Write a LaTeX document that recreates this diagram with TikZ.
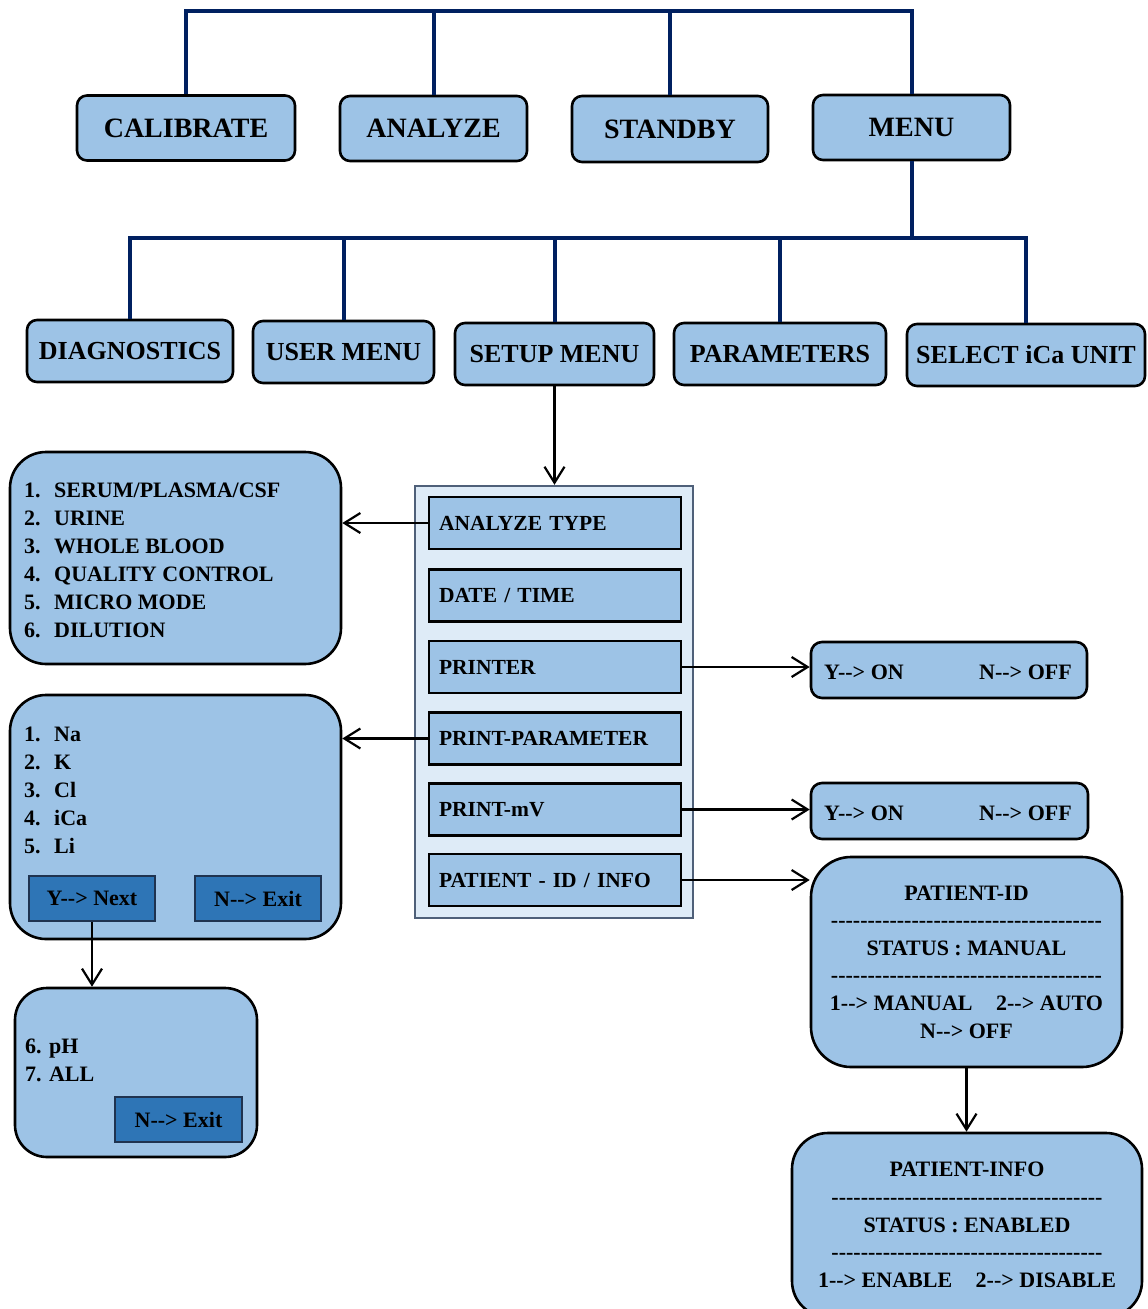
\documentclass[tikz,border=0pt]{standalone}
\usepackage{fontspec}
\setmainfont{Liberation Serif}
\usetikzlibrary{arrows.meta}

\definecolor{boxblue}{HTML}{9DC3E6}
\definecolor{btnblue}{HTML}{2E75B6}
\definecolor{btnedge}{HTML}{1F3350}
\definecolor{panelfill}{HTML}{DEEBF7}
\definecolor{paneledge}{HTML}{4F6079}
\definecolor{navy}{HTML}{002060}

% "-->" without the TeX en-dash ligature
\newcommand\goesto{-{}->}
% row of separating hyphens
\newcommand\dashrow{-{}-{}-{}-{}-{}-{}-{}-{}-{}-{}-{}-{}-{}-{}-{}-{}-{}-{}-{}-{}-{}-{}-{}-{}-{}-{}-{}-{}-{}-{}-{}-{}-{}-{}-{}-{}-}

\begin{document}
\begin{tikzpicture}[x=1pt,y=-1pt,
  bus/.style={draw=navy, line width=4pt},
  conn/.style={draw=black, line width=2.2pt,
    -{Straight Barb[length=16pt,width=20pt,line width=2.2pt]}},
  tab/.style={draw=black, line width=2.6pt, fill=boxblue, rounded corners=10pt,
    inner sep=0pt, font=\bfseries\fontsize{28}{32}\selectfont},
  tabsmall/.style={tab, font=\bfseries\fontsize{26}{30}\selectfont},
  panel/.style={draw=paneledge, line width=2.4pt, fill=panelfill, inner sep=0pt},
  item/.style={draw=black, line width=2.6pt, fill=boxblue, inner xsep=10pt, inner ysep=0pt,
    text width=232pt, align=left, minimum height=52pt,
    font=\bfseries\fontsize{21.5}{25}\selectfont},
  bigbox/.style={draw=black, line width=2.6pt, fill=boxblue, rounded corners=36pt, inner sep=0pt},
  ynbox/.style={draw=black, line width=2.6pt, fill=boxblue, rounded corners=11pt, inner sep=0pt},
  btn/.style={draw=btnedge, line width=1.6pt, fill=btnblue, inner sep=0pt,
    font=\bfseries\fontsize{22}{26}\selectfont},
  txt/.style={anchor=base west, inner sep=0pt, font=\bfseries\fontsize{22}{26}\selectfont},
  block/.style={align=center, font=\bfseries\fontsize{22}{27.6}\selectfont}
]
\useasboundingbox (0,0) rectangle (1148,1309);
\clip (0,0) rectangle (1148,1309);

% ---- main modes
\node[tab, minimum width=218pt, minimum height=65pt] (cal)  at (186,128)   {CALIBRATE};
\node[tab, minimum width=187pt, minimum height=65pt] (ana)  at (433.5,128.5) {ANALYZE};
\node[tab, minimum width=196pt, minimum height=66pt] (stb)  at (670,129)   {STANDBY};
\node[tab, minimum width=197pt, minimum height=65pt] (menu) at (911.5,127.5) {MENU};

\coordinate (busA) at (0,11);
\draw[bus] (cal.north) -- (cal.north |- busA) -- (menu.north |- busA) -- (menu.north);
\draw[bus] (ana.north) -- (ana.north |- busA);
\draw[bus] (stb.north) -- (stb.north |- busA);

% ---- menu entries
\node[tabsmall, minimum width=206pt, minimum height=62pt] (diag)  at (130,351)    {DIAGNOSTICS};
\node[tabsmall, minimum width=181pt, minimum height=62pt] (user)  at (343.5,352)  {USER MENU};
\node[tabsmall, minimum width=199pt, minimum height=62pt] (setup) at (554.5,354)  {SETUP MENU};
\node[tabsmall, minimum width=212pt, minimum height=62pt] (param) at (780,354)    {PARAMETERS};
\node[tabsmall, minimum width=238pt, minimum height=62pt] (sel)   at (1026,355)   {SELECT iCa UNIT};

\coordinate (busB) at (0,238);
\draw[bus] (menu.south) -- (menu.south |- busB);
\draw[bus] (diag.north) -- (diag.north |- busB) -- (sel.north |- busB) -- (sel.north);
\draw[bus] (user.north) -- (user.north |- busB);
\draw[bus] (setup.north) -- (setup.north |- busB);
\draw[bus] (param.north) -- (param.north |- busB);

% ---- setup menu panel
\node[panel, minimum width=278pt, minimum height=432pt] (panel) at (554,702) {};
\draw[conn] (setup.south) -- (setup.south |- panel.north);

\node[item] (atype)   at (555,523)   {ANALYZE TYPE};
\node[item] (dtime)   at (555,595.5) {DATE / TIME};
\node[item] (printer) at (555,667)   {PRINTER};
\node[item] (pparam)  at (555,738.5) {PRINT-PARAMETER};
\node[item] (pmv)     at (555,809.5) {PRINT-mV};
\node[item] (pinfo)   at (555,880)   {PATIENT - ID / INFO};

% ---- analyze types
\node[bigbox, minimum width=331pt, minimum height=212pt] (types) at (175.5,558) {};
\draw[conn] (atype.west) -- (atype.west -| types.east);
\foreach \n/\t [count=\i] in {1/{SERUM/PLASMA/CSF}, 2/URINE, 3/WHOLE BLOOD,
    4/QUALITY CONTROL, 5/MICRO MODE, 6/DILUTION} {
  \node[txt] (tn\i) at (24,{489+28*(\i-1)+8}) {\n.};
  \node[txt] (tt\i) at (54,{489+28*(\i-1)+8}) {\t};
}

% ---- print parameters, first page
\node[bigbox, minimum width=331pt, minimum height=244pt] (params) at (175.5,817) {};
\draw[conn] (pparam.west) -- (pparam.west -| params.east);
\foreach \n/\t [count=\i] in {1/Na, 2/K, 3/Cl, 4/iCa, 5/Li} {
  \node[txt] (pn\i) at (24,{733+28*(\i-1)+8}) {\n.};
  \node[txt] (pt\i) at (54,{733+28*(\i-1)+8}) {\t};
}
\node[btn, minimum width=126pt, minimum height=45pt] (ynext) at (92,898.5)  {Y\goesto{} Next};
\node[btn, minimum width=126pt, minimum height=45pt] (nexit) at (258,898.5) {N\goesto{} Exit};

% ---- print parameters, second page
\node[bigbox, rounded corners=32pt, minimum width=242pt, minimum height=169pt] (params2) at (136,1072.5) {};
\draw[conn] (ynext.south) -- (ynext.south |- params2.north);
\node[txt] (ph)  at (25,1053) {6. pH};
\node[txt] (all) at (25,1081) {7. ALL};
\node[btn, minimum width=127pt, minimum height=45pt] (nexit2) at (178.5,1119.5) {N\goesto{} Exit};

% ---- printer on/off
\node[ynbox, minimum width=276pt, minimum height=56pt] (yn1) at (949,670) {};
\draw[conn] (printer.east) -- (printer.east -| yn1.west);
\node[txt] (yn1a) at (824,679) {Y\goesto{} ON};
\node[txt] (yn1b) at (979,679) {N\goesto{} OFF};

% ---- mV on/off
\node[ynbox, minimum width=277pt, minimum height=56pt] (yn2) at (949.5,811) {};
\draw[conn] (pmv.east) -- (pmv.east -| yn2.west);
\node[txt] (yn2a) at (824,820) {Y\goesto{} ON};
\node[txt] (yn2b) at (979,820) {N\goesto{} OFF};

% ---- patient id
\node[bigbox, rounded corners=40pt, minimum width=311pt, minimum height=210pt, block] (pid) at (966.5,962)
  {PATIENT-ID\\ \dashrow\\ STATUS : MANUAL\\ \dashrow\\
   1\goesto{} MANUAL\hspace{18pt} 2\goesto{} AUTO\\ N\goesto{} OFF};
\draw[conn] (pinfo.east) -- (pinfo.east -| pid.west);

% ---- patient info
\node[bigbox, minimum width=350pt, minimum height=184pt, block] (pinf) at (967,1225)
  {PATIENT-INFO\\ \dashrow\\ STATUS : ENABLED\\ \dashrow\\
   1\goesto{} ENABLE\hspace{18pt} 2\goesto{} DISABLE};
\draw[conn] (pid.south) -- (pid.south |- pinf.north);
\end{tikzpicture}
\end{document}
